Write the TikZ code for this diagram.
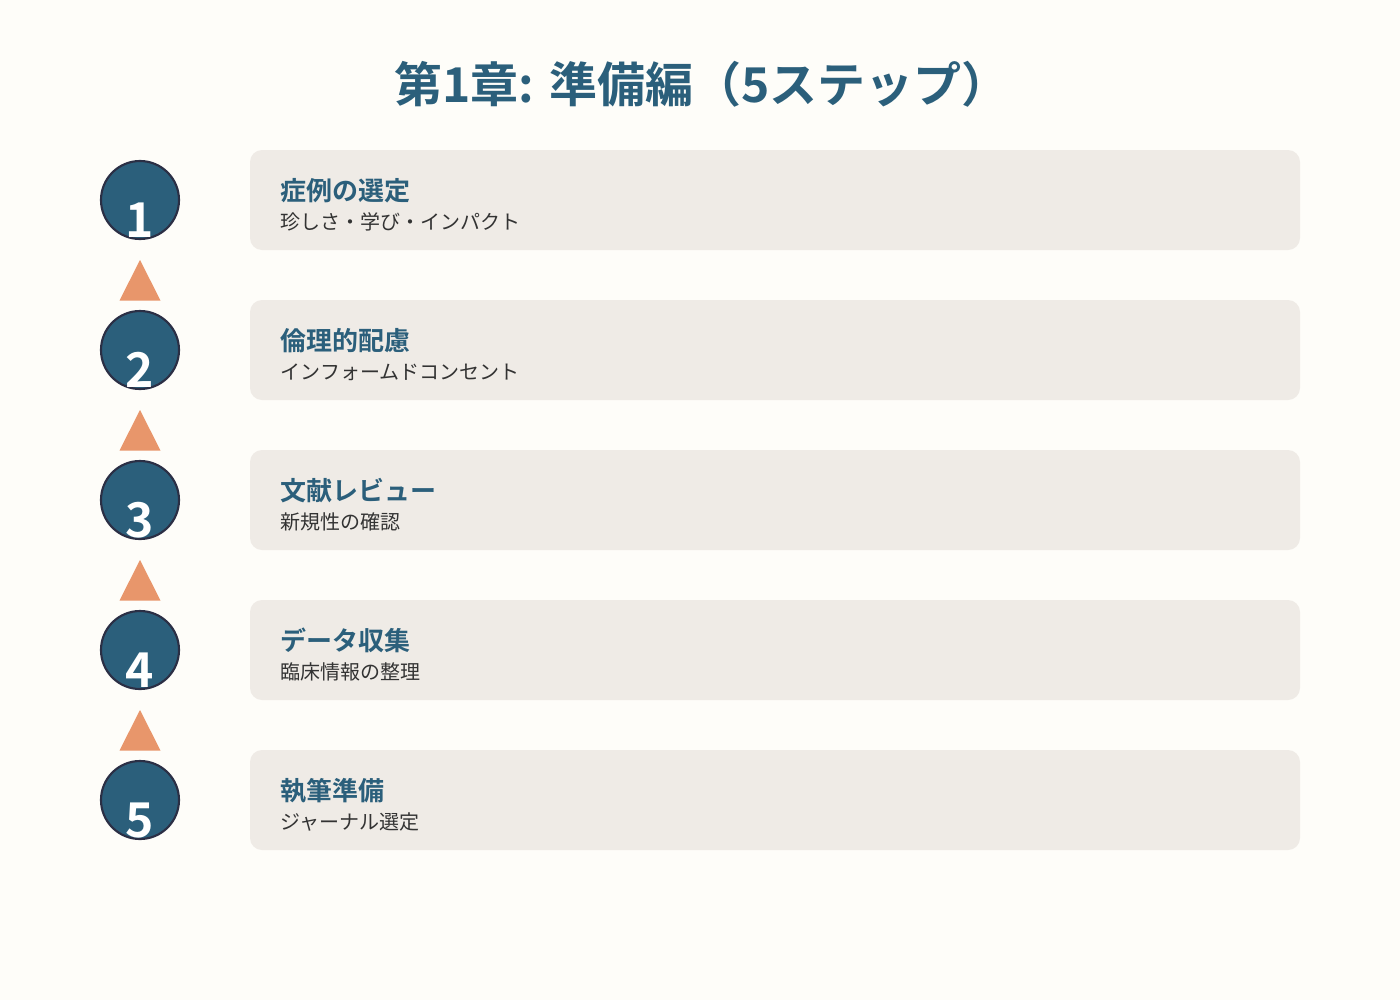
\documentclass[tikz,border=0pt]{standalone}
\usepackage{fontspec}
\setmainfont{Noto Sans CJK JP}
\newfontfamily\cjkbold{Noto Sans CJK JP Bold}
\definecolor{bgc}{HTML}{FEFDF9}
\definecolor{boxc}{HTML}{EFEBE6}
\definecolor{bluec}{HTML}{2B5F7B}
\definecolor{ringc}{HTML}{2B2F45}
\definecolor{triC}{HTML}{E8966B}
\definecolor{subc}{HTML}{333333}
\tikzset{
  stepcard/.style={fill=boxc, rounded corners=9pt},
  stepdisc/.style={circle, fill=bluec, draw=ringc, line width=1.6pt, minimum size=58.5pt, inner sep=0pt},
  stepnum/.style={anchor=base, text=white, font=\cjkbold\fontsize{36pt}{36pt}\selectfont, inner sep=0pt},
  steptitle/.style={anchor=base west, text=bluec, font=\cjkbold\fontsize{19.5pt}{19.5pt}\selectfont, inner sep=0pt},
  stepsub/.style={anchor=base west, text=subc, font=\fontsize{15pt}{15pt}\selectfont, inner sep=0pt},
  steparrow/.style={fill=triC},
}
\begin{document}
\begin{tikzpicture}[x=0.75pt,y=-0.75pt]
\fill[bgc] (0,0) rectangle (1400,1000);
\useasboundingbox (0,0) rectangle (1400,1000);
\node[anchor=base, text=bluec, font=\cjkbold\fontsize{36pt}{36pt}\selectfont, inner sep=0pt] (title) at (702,102) {第1章: 準備編（5ステップ）};
\foreach \i/\t/\s in {1/症例の選定/珍しさ・学び・インパクト, 2/倫理的配慮/インフォームドコンセント, 3/文献レビュー/新規性の確認, 4/データ収集/臨床情報の整理, 5/執筆準備/ジャーナル選定}{
  \pgfmathsetmacro{\yy}{150*(\i-1)}
  \fill[stepcard] (250,150+\yy) rectangle (1300,250+\yy);
  \node[steptitle] (t\i) at (280.5,200.5+\yy) {\t};
  \node[stepsub] (s\i) at (280.5,229+\yy) {\s};
  \node[stepdisc] (c\i) at (140,200+\yy) {};
  \node[stepnum] (n\i) at (140,237.5+\yy) {\i};
}
\foreach \i in {1,2,3,4}{
  \pgfmathsetmacro{\yy}{150*(\i-1)}
  \fill[steparrow] (140,260+\yy) -- (160.5,300.5+\yy) -- (119.5,300.5+\yy) -- cycle;
}
\end{tikzpicture}
\end{document}
